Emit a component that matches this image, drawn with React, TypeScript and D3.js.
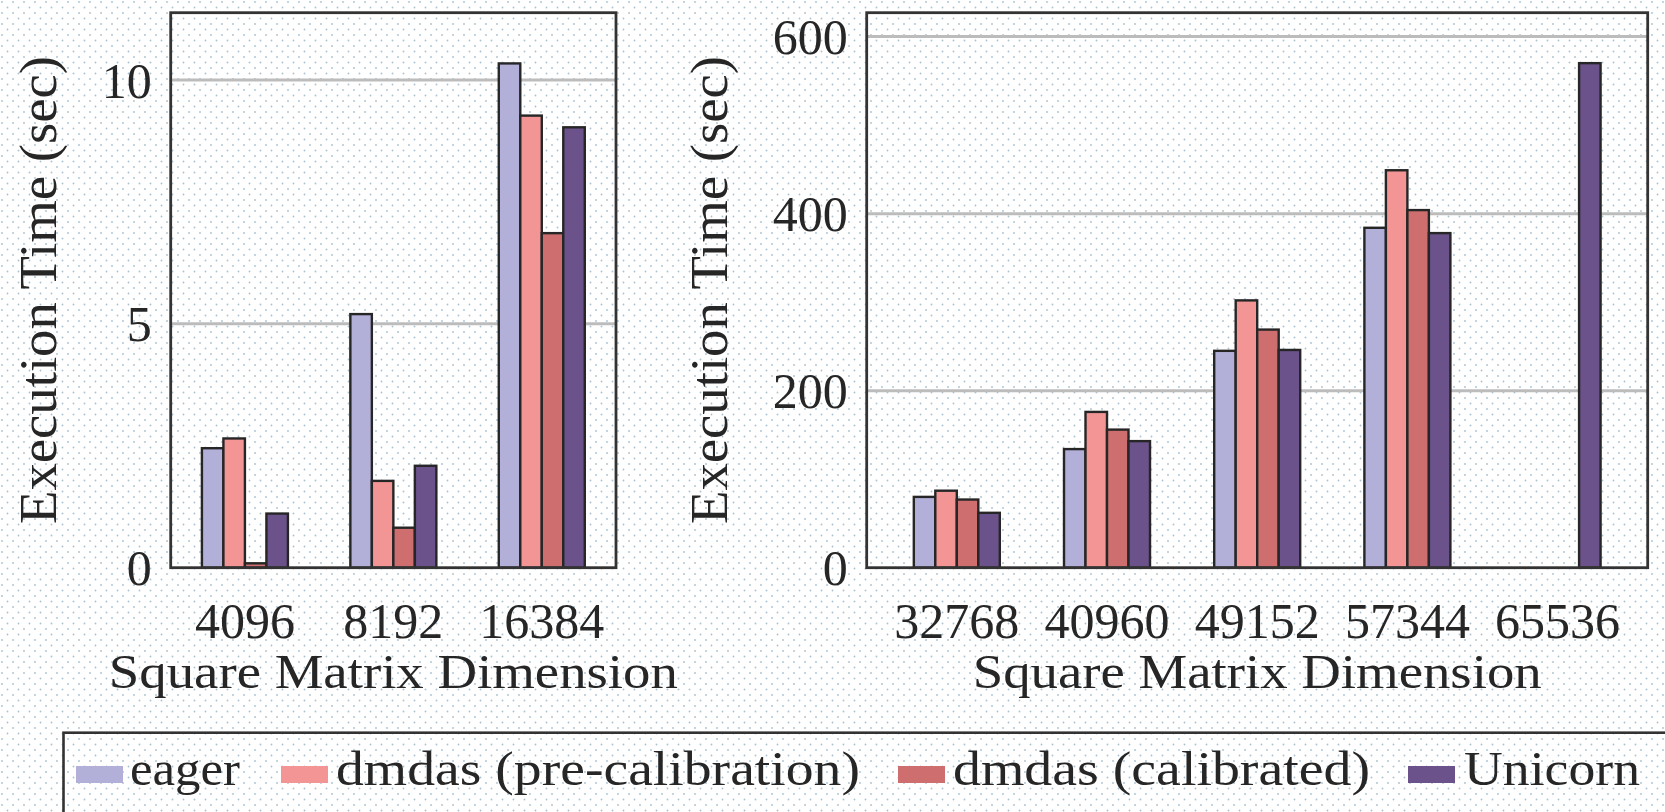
import React from 'react'
import { scaleBand, scaleLinear, scalePoint } from 'd3'

// matrix sizes on each panel
const smallDims = ['4096', '8192', '16384']
const largeDims = ['32768', '40960', '49152', '57344', '65536']

const seriesNames = ['eager', 'dmdas (pre-calibration)', 'dmdas (calibrated)', 'Unicorn']
const seriesColors = ['#b2afd9', '#f39595', '#cf6e6e', '#6b528b']

// execution time (sec), small matrices
const eagerSmall = [2.45, 5.2, 10.34]
const preSmall = [2.65, 1.78, 9.27]
const calSmall = [0.09, 0.82, 6.86]
const unicornSmall = [1.11, 2.09, 9.03]

// execution time (sec), large matrices (eager/dmdas did not run 65536)
const eagerLarge = [80, 134, 245, 384, null]
const preLarge = [87, 176, 302, 449, null]
const calLarge = [77, 156, 269, 404, null]
const unicornLarge = [62, 143, 246, 378, 570]

const smallTicks = [0, 5, 10]
const largeTicks = [0, 200, 400, 600]

const FONT = '"Liberation Serif", "DejaVu Serif", serif'
const TEXT = '#262626'

function Panel({ dims, series, ticks, yMax, left, right, padding, yLabelX }) {
  const top = 12.7
  const bottom = 567.7
  const x = scalePoint().domain(dims).range([left, right]).padding(padding)
  const y = scaleLinear().domain([0, yMax]).range([bottom, top])
  const inner = scaleBand()
    .domain(series.map((_, i) => String(i)))
    .range([-43, 43])
  const midX = (left + right) / 2
  const midY = 290

  return (
    <g>
      {ticks
        .filter((t) => t > 0)
        .map((t) => (
          <line
            key={'g' + t}
            x1={left}
            x2={right}
            y1={y(t)}
            y2={y(t)}
            stroke="#bcbcbc"
            strokeWidth={3}
          />
        ))}
      {dims.map((d, di) => (
        <g key={d}>
          {series.map((s, si) =>
            s[di] == null ? null : (
              <rect
                key={si}
                x={x(d) + inner(String(si))}
                y={y(s[di])}
                width={inner.bandwidth()}
                height={bottom - y(s[di])}
                fill={seriesColors[si]}
                stroke="#262626"
                strokeWidth={2.4}
              />
            )
          )}
        </g>
      ))}
      <rect
        x={left}
        y={top}
        width={right - left}
        height={bottom - top}
        fill="none"
        stroke="#333"
        strokeWidth={2.8}
      />
      {ticks.map((t) => (
        <text
          key={'t' + t}
          x={left - 19}
          y={y(t)}
          dy="0.35em"
          textAnchor="end"
          fontSize={50}
          fill={TEXT}
        >
          {t}
        </text>
      ))}
      {dims.map((d) => (
        <text key={'x' + d} x={x(d)} y={638} textAnchor="middle" fontSize={50} fill={TEXT}>
          {d}
        </text>
      ))}
      <text
        x={midX}
        y={688}
        textAnchor="middle"
        fontSize={49}
        fill={TEXT}
        textLength={569}
        lengthAdjust="spacingAndGlyphs"
      >
        Square Matrix Dimension
      </text>
      <text
        transform={`translate(${yLabelX},${midY}) rotate(-90)`}
        textAnchor="middle"
        fontSize={53}
        fill={TEXT}
        textLength={468}
        lengthAdjust="spacingAndGlyphs"
      >
        Execution Time (sec)
      </text>
    </g>
  )
}

// legend layout: swatch left edge, label left edge and label width
const legendLayout = [
  { sx: 76, tx: 130, tw: 110 },
  { sx: 281, tx: 336, tw: 524 },
  { sx: 898, tx: 953, tw: 417 },
  { sx: 1408, tx: 1464, tw: 176 },
]

export default function App() {
  return (
    <svg
      width={1665}
      height={812}
      style={{ position: 'absolute', left: 0, top: 0, fontFamily: FONT }}
    >
      <defs>
        <pattern id="dots" width={11} height={11} patternUnits="userSpaceOnUse">
          <rect width={11} height={11} fill="#fff" />
          <circle cx={2} cy={2} r={0.9} fill="#a9c1d1" />
          <circle cx={7.5} cy={7.5} r={0.9} fill="#a9c1d1" />
        </pattern>
      </defs>
      <rect width={1665} height={812} fill="url(#dots)" />

      <Panel
        dims={smallDims}
        series={[eagerSmall, preSmall, calSmall, unicornSmall]}
        ticks={smallTicks}
        yMax={11.38}
        left={170.7}
        right={616}
        padding={0.5}
        yLabelX={56}
      />
      <Panel
        dims={largeDims}
        series={[eagerLarge, preLarge, calLarge, unicornLarge]}
        ticks={largeTicks}
        yMax={627}
        left={866.7}
        right={1647.7}
        padding={0.6}
        yLabelX={727}
      />

      <rect x={63.5} y={732.7} width={1680} height={120} fill="none" stroke="#333" strokeWidth={2.6} />
      {seriesNames.map((name, i) => (
        <g key={name}>
          <rect x={legendLayout[i].sx} y={766} width={47} height={17} fill={seriesColors[i]} />
          <text
            x={legendLayout[i].tx}
            y={785}
            fontSize={49}
            fill={TEXT}
            textLength={legendLayout[i].tw}
            lengthAdjust="spacingAndGlyphs"
          >
            {name}
          </text>
        </g>
      ))}
    </svg>
  )
}
